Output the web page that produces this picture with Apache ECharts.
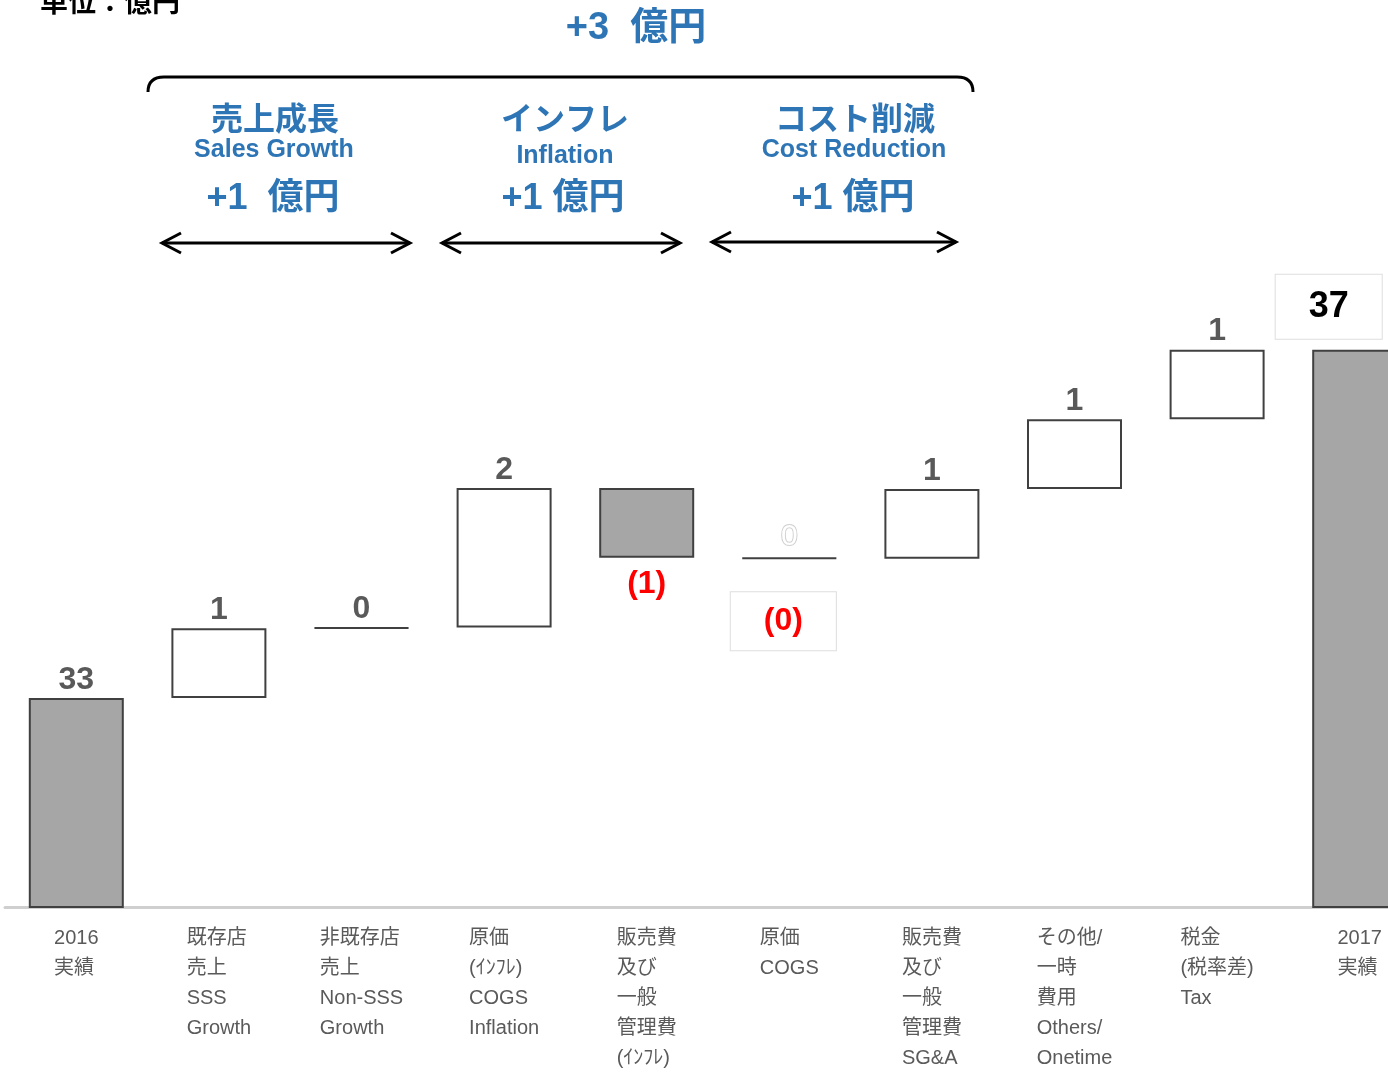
<!DOCTYPE html>
<html>
<head>
<meta charset="utf-8">
<script src="https://cdn.jsdelivr.net/npm/echarts@6/dist/echarts.min.js"></script>
<style>
  html, body { margin: 0; padding: 0; background: #ffffff; }
  #chart { width: 1388px; height: 1072px; }
</style>
</head>
<body>
<div id="chart"></div>
<script>
// Operating profit bridge, 2016 actual -> 2017 actual (unit: 億円)
const categories = [
  '2016\n実績',
  '既存店\n売上\nSSS\nGrowth',
  '非既存店\n売上\nNon-SSS\nGrowth',
  '原価\n(ｲﾝﾌﾚ)\nCOGS\nInflation',
  '販売費\n及び\n一般\n管理費\n(ｲﾝﾌﾚ)',
  '原価\nCOGS',
  '販売費\n及び\n一般\n管理費\nSG&A',
  'その他/\n一時\n費用\nOthers/\nOnetime',
  '税金\n(税率差)\nTax',
  '2017\n実績'
];
const openingTotal = 33.0;
const closingTotal = 37.0;
const changes = [0.80, 0.01, 1.60, -0.80, -0.01, 0.80, 0.80, 0.80];

const BLUE = '#2e75b6';
const FONT = '"Liberation Sans", "Noto Sans CJK JP", sans-serif';
const CJK = '"Noto Sans CJK JP", "Liberation Sans", sans-serif';

const totalStyle = { color: '#a6a6a6', borderColor: '#404040', borderWidth: 2 };
const upStyle = { color: '#ffffff', borderColor: '#404040', borderWidth: 2 };
const downStyle = { color: '#a6a6a6', borderColor: '#404040', borderWidth: 2 };

const valueLabel = {
  show: true, position: 'top', distance: 2,
  fontFamily: FONT, fontWeight: 'bold', fontSize: 32, color: '#595959'
};
const negLabel = {
  show: true, position: 'bottom', distance: 10,
  fontFamily: FONT, fontWeight: 'bold', fontSize: 32, color: '#ff0000'
};

function fmtChange(d) {
  return d < 0 ? '(' + Math.round(-d) + ')' : String(Math.round(d));
}

// Build the floating waterfall: transparent base + visible step
const baseData = [];
const stepData = [];
let running = openingTotal;
baseData.push(0);
stepData.push({
  value: openingTotal, itemStyle: totalStyle,
  label: Object.assign({}, valueLabel, { formatter: String(Math.round(openingTotal)) })
});
changes.forEach(function (d) {
  const next = running + d;
  const low = Math.min(running, next);
  const text = fmtChange(d);
  if (d >= 0) {
    baseData.push(low);
    stepData.push({
      value: Math.abs(d), itemStyle: upStyle,
      label: Object.assign({}, valueLabel, { formatter: text })
    });
  } else if (Math.round(-d) === 0) {
    // negligible decrease: faint zero above the line, boxed figure below
    baseData.push({
      value: low,
      label: {
        show: true, position: 'top', distance: 7, formatter: '0',
        fontFamily: FONT, fontSize: 30, color: '#ffffff',
        textBorderColor: '#d0d0d0', textBorderWidth: 2
      }
    });
    stepData.push({
      value: Math.abs(d), itemStyle: downStyle,
      label: Object.assign({}, negLabel, {
        formatter: text, distance: 33, offset: [-6, 0],
        lineHeight: 32, padding: [13, 33],
        backgroundColor: '#ffffff', borderColor: '#dedede', borderWidth: 1
      })
    });
  } else {
    baseData.push(low);
    stepData.push({
      value: Math.abs(d), itemStyle: downStyle,
      label: Object.assign({}, negLabel, { formatter: text })
    });
  }
  running = next;
});
baseData.push(0);
stepData.push({
  value: closingTotal, itemStyle: totalStyle,
  label: {
    show: true, position: 'top', distance: 11, offset: [-31, 0],
    formatter: String(Math.round(closingTotal)),
    fontFamily: FONT, fontWeight: 'bold', fontSize: 36, color: '#000000',
    lineHeight: 36, padding: [14, 33],
    backgroundColor: '#ffffff', borderColor: '#dedede', borderWidth: 1
  }
});

// Left-aligned lines inside a centred block under each bar
function axisText(value) {
  return value.split('\n').map(function (line) { return '{l|' + line + '}'; }).join('\n');
}

function txt(x, y, text, font, fill, align) {
  return {
    type: 'text', x: x, y: y, silent: true,
    style: {
      text: text, font: font, fill: fill || BLUE,
      align: align || 'center', verticalAlign: 'middle',
      textAlign: align || 'center', textVerticalAlign: 'middle'
    }
  };
}

const strokeStyle = { stroke: '#000000', lineWidth: 3, fill: null };

function arrow(x1, x2, y) {
  return [
    { type: 'line', silent: true, shape: { x1: x1, y1: y, x2: x2, y2: y }, style: strokeStyle },
    { type: 'polyline', silent: true, shape: { points: [[x1 + 19, y - 10], [x1, y], [x1 + 19, y + 10]] }, style: strokeStyle },
    { type: 'polyline', silent: true, shape: { points: [[x2 - 19, y - 10], [x2, y], [x2 - 19, y + 10]] }, style: strokeStyle }
  ];
}

const headFontL = 'bold 32px ' + CJK;
const headFontE = 'bold 25px ' + FONT;
const headFontV = 'bold 36px ' + FONT;

const graphics = [
  txt(40, 1, '単位：億円', 'bold 28px ' + CJK, '#000000', 'left'),
  txt(636, 29, '+3  億円', 'bold 38px ' + FONT, BLUE),
  // bracket spanning the three groups
  { type: 'bezierCurve', silent: true, shape: { x1: 148, y1: 92, cpx1: 148, cpy1: 77, x2: 164, y2: 77 }, style: strokeStyle },
  { type: 'line', silent: true, shape: { x1: 164, y1: 77, x2: 957, y2: 77 }, style: strokeStyle },
  { type: 'bezierCurve', silent: true, shape: { x1: 957, y1: 77, cpx1: 973, cpy1: 77, x2: 973, y2: 92 }, style: strokeStyle },
  txt(275, 118, '売上成長', headFontL),
  txt(274, 150, 'Sales Growth', headFontE),
  txt(273, 199, '+1  億円', headFontV),
  txt(565, 118, 'インフレ', headFontL),
  txt(565, 156, 'Inflation', headFontE),
  txt(563, 199, '+1 億円', headFontV),
  txt(855, 118, 'コスト削減', headFontL),
  txt(854, 150, 'Cost Reduction', headFontE),
  txt(853, 199, '+1 億円', headFontV)
].concat(arrow(162, 410, 243), arrow(442, 680, 243), arrow(712, 956, 242));

const chart = echarts.init(document.getElementById('chart'), null, { renderer: 'canvas' });
chart.setOption({
  animation: false,
  backgroundColor: '#ffffff',
  grid: {
    left: 5, width: 1426, top: 88.4, bottom: 165,
    containLabel: false, outerBoundsMode: 'none'
  },
  xAxis: {
    type: 'category',
    data: categories,
    axisTick: { show: false },
    axisLine: { show: true, lineStyle: { color: '#cfcfcf', width: 3 } },
    axisLabel: {
      interval: 0, margin: 16,
      formatter: axisText,
      rich: {
        l: {
          align: 'left', fontFamily: FONT, fontSize: 20, lineHeight: 30,
          color: '#5a5a5a'
        }
      }
    }
  },
  yAxis: {
    type: 'value', min: 30.6, max: 40, show: false,
    splitLine: { show: false }
  },
  series: [
    {
      name: 'base', type: 'bar', stack: 'bridge', barWidth: 95,
      itemStyle: { color: 'rgba(0,0,0,0)', borderWidth: 0 },
      emphasis: { disabled: true },
      data: baseData, z: 1
    },
    {
      name: 'step', type: 'bar', stack: 'bridge', barWidth: 95,
      emphasis: { disabled: true },
      data: stepData, z: 2
    }
  ],
  graphic: { elements: graphics }
});
</script>
</body>
</html>
